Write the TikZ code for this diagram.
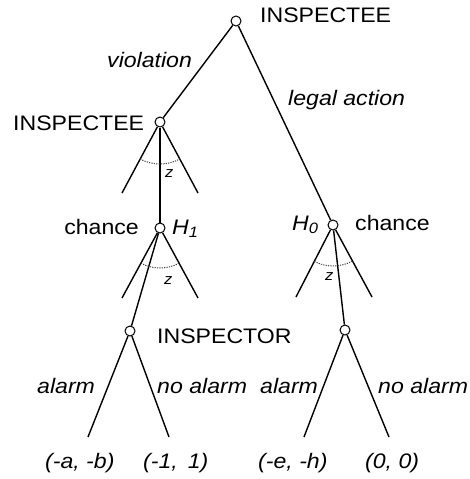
\documentclass[tikz,border=0pt]{standalone}
\usepackage{fontspec}
\setmainfont{Liberation Sans}[FakeStretch=1.1]
\begin{document}
\begin{tikzpicture}[x=1pt,y=-1pt,
  gnode/.style={circle,draw,fill=white,line width=1pt,minimum size=10pt,inner sep=0pt},
  edge/.style={line width=1.4pt},
  arcz/.style={line width=1pt,black!75,dash pattern=on 1.2pt off 1.2pt},
  lbl/.style={inner sep=0pt,anchor=base west,font=\fontsize{21}{25}\selectfont},
  ilbl/.style={lbl,font=\fontsize{21}{25}\selectfont\itshape},
  zlbl/.style={lbl,font=\fontsize{15}{18}\selectfont\itshape}]
\useasboundingbox (0,0) rectangle (469,479);
% game nodes
\node[gnode] (r) at (236,21) {};
\node[gnode] (a) at (160,122) {};
\node[gnode] (c1) at (160,228) {};
\node[gnode] (c0) at (333,225) {};
\node[gnode] (i1) at (130,331) {};
\node[gnode] (i0) at (345,330) {};
\coordinate (a1) at (122,193);
\coordinate (a2) at (198,193);
\coordinate (c1l) at (122,298);
\coordinate (c1r) at (198,298);
\coordinate (c0l) at (296,297);
\coordinate (c0r) at (372,297);
\coordinate (p1) at (88,437);
\coordinate (p2) at (169,437);
\coordinate (p3) at (304,437);
\coordinate (p4) at (389,437);
% edges
\draw[edge] (r) -- (a);
\draw[edge] (r) -- (c0);
\draw[edge] (a) -- (a1);
\draw[edge] (a) -- (a2);
\draw[edge] (a) -- (c1);
\draw[edge] (c1) -- (c1l);
\draw[edge] (c1) -- (c1r);
\draw[edge] (c1) -- (i1);
\draw[edge] (c0) -- (c0l);
\draw[edge] (c0) -- (c0r);
\draw[edge] (c0) -- (i0);
\draw[edge] (i1) -- (p1);
\draw[edge] (i1) -- (p2);
\draw[edge] (i0) -- (p3);
\draw[edge] (i0) -- (p4);
% dotted arcs
\draw[arcz] ([shift={(241.8:42pt)}]a.center) arc[start angle=241.8,end angle=298.2,radius=42pt];
\draw[arcz] ([shift={(241.5:40pt)}]c1.center) arc[start angle=241.5,end angle=298.5,radius=40pt];
\draw[arcz] ([shift={(242.8:41pt)}]c0.center) arc[start angle=242.8,end angle=298.4,radius=41pt];
% labels
\node[lbl] (tInspectee) at (260,22) {INSPECTEE};
\node[ilbl] (tViol) at (107,67) {violation};
\node[ilbl] (tLegal) at (288,105) {legal action};
\node[lbl] (tInspectee2) at (13,130) {INSPECTEE};
\node[lbl,anchor=base east] (tChance1) at (139,234) {chance};
\node[ilbl] (tH1) at (172,234) {H\raisebox{-0.35ex}{\fontsize{15}{18}\selectfont 1}};
\node[ilbl] (tH0) at (292,230) {H\raisebox{-0.35ex}{\fontsize{15}{18}\selectfont 0}};
\node[lbl] (tChance0) at (355,230) {chance};
\node[zlbl] (z1) at (165,177) {z};
\node[zlbl] (z2) at (164,284) {z};
\node[zlbl] (z3) at (325,280) {z};
\node[lbl] (tInspector) at (157,343) {INSPECTOR};
\node[ilbl] (tAl1) at (37,393) {alarm};
\node[ilbl] (tNoAl1) at (157,393) {no alarm};
\node[ilbl] (tAl0) at (260,393) {alarm};
\node[ilbl] (tNoAl0) at (378,393) {no alarm};
\node[ilbl] (pay1) at (45,468) {(-a, -b)};
\node[ilbl] (pay2) at (143,468) {(-1, \,1)};
\node[ilbl] (pay3) at (258,468) {(-e, -h)};
\node[ilbl] (pay4) at (365,468) {(0, 0)};
\end{tikzpicture}
\end{document}
